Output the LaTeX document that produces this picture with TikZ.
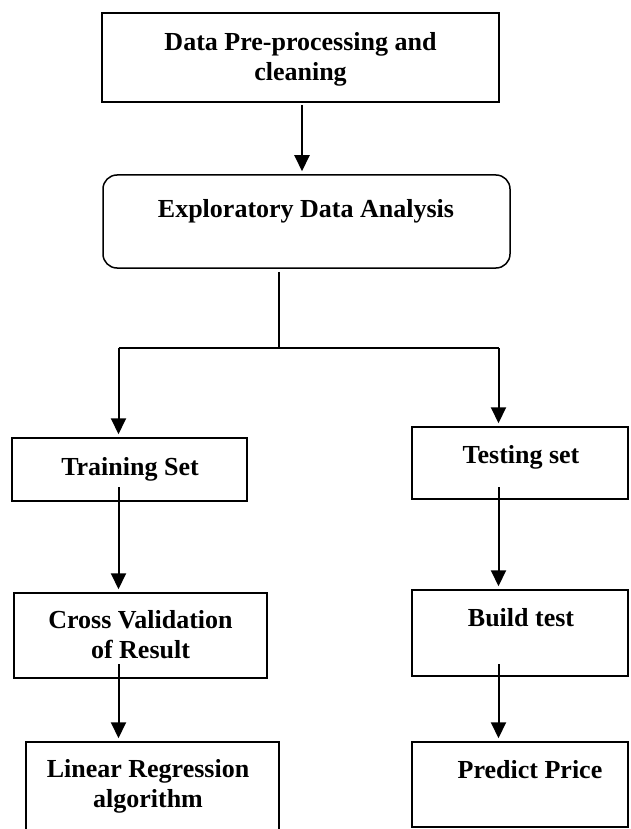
\documentclass[tikz,border=0pt]{standalone}
\usepackage{fontspec}
\setmainfont{Liberation Serif}
\usetikzlibrary{arrows.meta}
\begin{document}
\begin{tikzpicture}[x=1pt,y=-1pt,
  box/.style={draw=black, line width=1.5pt, inner sep=0pt},
  lbl/.style={font=\fontsize{26}{30}\selectfont\bfseries, inner sep=0pt, align=center},
  wire/.style={line width=2pt},
  flow/.style={wire, -{Triangle[width=15pt,length=16pt]}, shorten >=3pt}]
\clip (0,0) rectangle (630,829);
\fill[white] (0,0) rectangle (630,829);

% process boxes
\node[box, minimum width=397pt, minimum height=89pt] (prep) at (300.5,57.5) {};
\node[box, rounded corners=14pt, minimum width=407pt, minimum height=93pt] (eda) at (306.5,221.5) {};
\node[box, minimum width=235pt, minimum height=63pt] (train) at (129.5,469.5) {};
\node[box, minimum width=216pt, minimum height=72pt] (test) at (520,463) {};
\node[box, minimum width=253pt, minimum height=85pt] (cv) at (140.5,635.5) {};
\node[box, minimum width=216pt, minimum height=86pt] (build) at (520,633) {};
\node[box, minimum width=253pt, minimum height=96pt] (lr) at (152.5,790) {};
\node[box, minimum width=216pt, minimum height=85pt] (pred) at (520,784.5) {};

% labels
\node[lbl, anchor=center] (tprep) at (300.5,59.5) {Data Pre-processing and\\cleaning};
\node[lbl, anchor=base] (teda) at (306,217) {Exploratory Data Analysis};
\node[lbl, anchor=base] (ttrain) at (130,475) {Training Set};
\node[lbl, anchor=base] (ttest) at (521,463) {Testing set};
\node[lbl, anchor=center] (tcv) at (140.5,634.6) {Cross Validation\\of Result};
\node[lbl, anchor=base] (tbuild) at (521,626) {Build test};
\node[lbl, anchor=center] (tlr) at (148,786.4) {Linear Regression\\algorithm};
\node[lbl, anchor=base] (tpred) at (530,778) {Predict Price};

% connectors
\coordinate (a1) at (302,102);
\draw[flow, shorten <=3pt] (a1) -- (a1 |- eda.north);

\coordinate (split) at (278.5,348);
\coordinate (lb) at (118.5,348);
\coordinate (rb) at (498.5,348);
\draw[wire, shorten <=3pt] (split |- eda.south) -- (split);
\draw[wire] (lb) -- (rb);
\draw[flow] (lb) -- (lb |- train.north);
\draw[flow] (rb) -- (rb |- test.north);

\coordinate (l1) at (118.5,487);
\coordinate (r1) at (498.5,487);
\draw[flow] (l1) -- (l1 |- cv.north);
\draw[flow] (r1) -- (r1 |- build.north);

\coordinate (l2) at (118.5,664);
\coordinate (r2) at (498.5,664);
\draw[flow] (l2) -- (l2 |- lr.north);
\draw[flow] (r2) -- (r2 |- pred.north);
\end{tikzpicture}
\end{document}
